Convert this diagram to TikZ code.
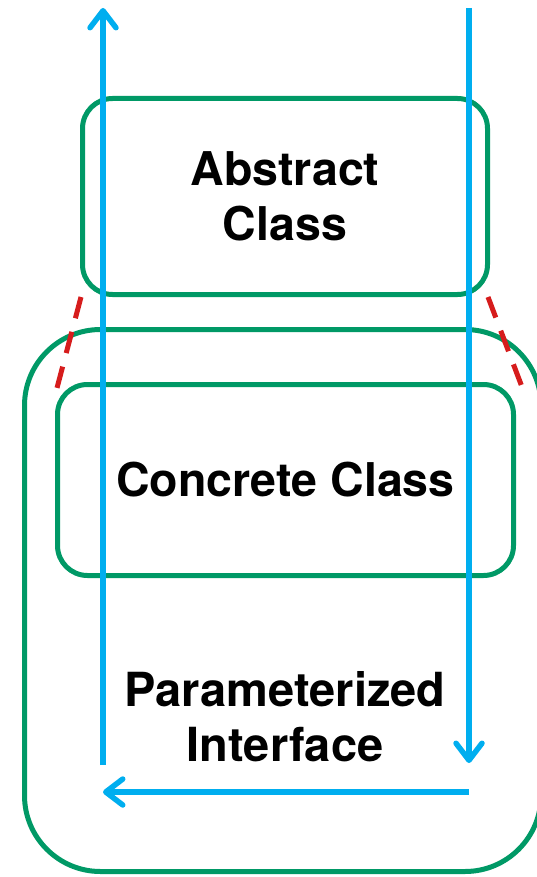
\documentclass[tikz,border=0pt]{standalone}
\usepackage{fontspec}
\setmainfont{TeX Gyre Heros}
\usetikzlibrary{arrows.meta}
\definecolor{boxgreen}{RGB}{0,153,102}
\definecolor{flowblue}{RGB}{0,174,239}
\definecolor{linkred}{RGB}{214,28,28}
\begin{document}
\begin{tikzpicture}[x=1pt,y=-1pt,
  classbox/.style={draw=boxgreen, line width=5pt, rounded corners=30pt,
    inner sep=0pt, align=center, font=\fontsize{46.5}{55}\selectfont\bfseries},
  label/.style={inner sep=0pt, align=center, font=\fontsize{47}{55}\selectfont\bfseries},
  flow/.style={draw=flowblue, line width=5.5pt,
    -{Straight Barb[length=17pt,width=26pt,round]}},
  link/.style={draw=linkred, line width=5pt, dash pattern=on 22pt off 14pt}]
\useasboundingbox (0,0) rectangle (537,877);

% outer parameterized interface (its right side runs past the page edge)
\node[classbox, rounded corners=76pt, minimum width=516.5pt, minimum height=542pt]
  (iface) at (282.75,600.5) {};
\node[label] (ifacetext) at (285,717) {Parameterized\\Interface};

% abstract and concrete classes
\node[classbox, minimum width=405pt, minimum height=196pt]
  (abs) at (285,196.5) {Abstract\\Class};
\node[classbox, minimum width=456pt, minimum height=191pt]
  (conc) at (285.5,480) {Concrete Class};

% dashed links between the abstract and the parameterized class
\coordinate (la) at (81,297);
\coordinate (lb) at (57,388);
\coordinate (ra) at (488,297);
\coordinate (rb) at (522,387);
\draw[link] (la) -- (lb);
\draw[link] (ra) -- (rb);

% flow arrows
\coordinate (upbot) at (103,765);
\coordinate (uptop) at (103,8);
\coordinate (dntop) at (469,8);
\coordinate (dnbot) at (469,763);
\coordinate (backr) at (469,792);
\coordinate (backl) at (103,792);
\draw[flow] (upbot) -- (uptop);
\draw[flow] (dntop) -- (dnbot);
\draw[flow] (backr) -- (backl);
\end{tikzpicture}
\end{document}
